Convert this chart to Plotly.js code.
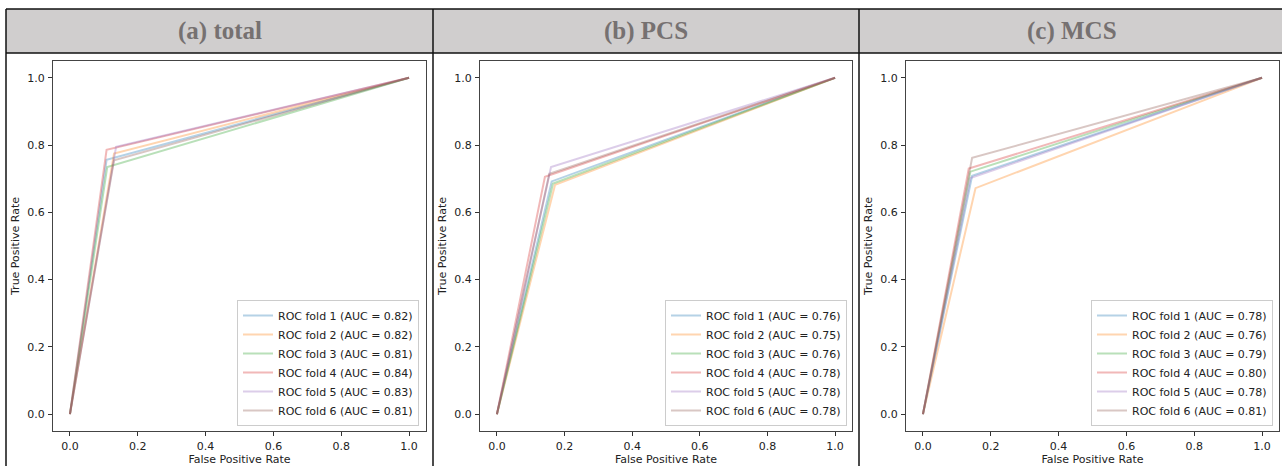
<!DOCTYPE html>
<html>
<head>
<meta charset="utf-8">
<script src="https://cdn.plot.ly/plotly-3.0.1.min.js"></script>
<style>html,body{margin:0;padding:0;background:#fff;}#chart{width:1282px;height:466px;}</style>
</head>
<body>
<div id="chart"></div>
<script>
// ---- data ----
const panelTitles = ['(a) total', '(b) PCS', '(c) MCS'];
const foldLabels = ['ROC fold 1', 'ROC fold 2', 'ROC fold 3', 'ROC fold 4', 'ROC fold 5', 'ROC fold 6'];
const foldColors = ['31,119,180', '255,127,14', '44,160,44', '214,39,40', '148,103,189', '140,86,75'];

const aucTotal = [0.82, 0.82, 0.81, 0.84, 0.83, 0.81];
const fprTotal = [0.108, 0.130, 0.110, 0.108, 0.136, 0.130];
const tprTotal = [0.756, 0.775, 0.735, 0.786, 0.795, 0.755];

const aucPCS = [0.76, 0.75, 0.76, 0.78, 0.78, 0.78];
const fprPCS = [0.162, 0.172, 0.166, 0.142, 0.160, 0.155];
const tprPCS = [0.692, 0.682, 0.686, 0.706, 0.735, 0.715];

const aucMCS = [0.78, 0.76, 0.79, 0.80, 0.78, 0.81];
const fprMCS = [0.145, 0.155, 0.140, 0.135, 0.140, 0.145];
const tprMCS = [0.709, 0.672, 0.721, 0.730, 0.702, 0.762];

const tickVals = [0, 0.2, 0.4, 0.6, 0.8, 1.0];
const tickText = ['0.0', '0.2', '0.4', '0.6', '0.8', '1.0'];
const xTitle = 'False Positive Rate';
const yTitle = 'True Positive Rate';

// ---- layout geometry (pixels) ----
const W = 1282, H = 466;
const px = v => v / W;
const py = v => 1 - v / H;
const plotBoxes = [[53, 426], [480, 852], [906, 1279]];
const plotTop = 61, plotBottom = 431;
const legendRight = [419, 847, 1273];
const legendBottom = 426;
const cellEdges = [6, 433, 859, 1285];

const panels = [
  {auc: aucTotal, fpr: fprTotal, tpr: tprTotal},
  {auc: aucPCS, fpr: fprPCS, tpr: tprPCS},
  {auc: aucMCS, fpr: fprMCS, tpr: tprMCS}
];

const traces = [];
const layout = {
  width: W, height: H, autosize: false,
  margin: {l: 0, r: 0, t: 0, b: 0, pad: 0},
  paper_bgcolor: '#ffffff', plot_bgcolor: '#ffffff',
  font: {family: 'DejaVu Sans', size: 11, color: '#222'},
  shapes: [], annotations: []
};

panels.forEach((p, k) => {
  const sx = k === 0 ? '' : String(k + 1);
  const legName = k === 0 ? 'legend' : 'legend' + (k + 1);
  p.auc.forEach((a, i) => {
    traces.push({
      type: 'scatter', mode: 'lines',
      x: [0, p.fpr[i], 1], y: [0, p.tpr[i], 1],
      xaxis: 'x' + sx, yaxis: 'y' + sx,
      name: foldLabels[i] + ' (AUC = ' + a.toFixed(2) + ')',
      line: {color: 'rgba(' + foldColors[i] + ',0.33)', width: 2},
      legend: legName, hoverinfo: 'skip'
    });
  });
  const axCommon = {
    range: [-0.05, 1.05], tickvals: tickVals, ticktext: tickText,
    ticks: 'outside', ticklen: 4, tickwidth: 1, tickcolor: '#333',
    showline: true, linecolor: '#444', linewidth: 1, mirror: true,
    showgrid: false, zeroline: false, fixedrange: true,
    tickfont: {family: 'DejaVu Sans', size: 11, color: '#222'}
  };
  layout['xaxis' + sx] = Object.assign({}, axCommon, {
    domain: [px(plotBoxes[k][0]), px(plotBoxes[k][1])],
    anchor: 'y' + sx, ticklabelstandoff: 1,
    title: {text: xTitle, standoff: 6, font: {family: 'DejaVu Sans', size: 11, color: '#222'}}
  });
  layout['yaxis' + sx] = Object.assign({}, axCommon, {
    domain: [py(plotBottom), py(plotTop)],
    anchor: 'x' + sx, ticklabelstandoff: 1,
    title: {text: yTitle, standoff: 5, font: {family: 'DejaVu Sans', size: 11, color: '#222'}}
  });
  layout[legName] = {
    x: px(legendRight[k]), xanchor: 'right',
    y: py(legendBottom), yanchor: 'bottom',
    bgcolor: 'rgba(255,255,255,0.85)', bordercolor: '#cccccc', borderwidth: 1,
    font: {family: 'DejaVu Sans', size: 11, color: '#222'},
    itemwidth: 30, tracegroupgap: 0
  };
  // header text
  layout.annotations.push({
    xref: 'paper', yref: 'paper',
    x: px((cellEdges[k] + cellEdges[k + 1]) / 2), y: py(31),
    xanchor: 'center', yanchor: 'middle', showarrow: false,
    text: '<b>' + panelTitles[k] + '</b>',
    font: {family: 'Liberation Serif', size: 25, color: '#767171'}
  });
});

// header band and table lines
layout.shapes.push({type: 'rect', xref: 'paper', yref: 'paper', x0: px(6), x1: px(1285), y0: py(53), y1: py(9), fillcolor: '#d0cece', line: {width: 0}, layer: 'below'});
[9, 53].forEach(yy => layout.shapes.push({type: 'line', xref: 'paper', yref: 'paper', x0: px(6), x1: px(1285), y0: py(yy), y1: py(yy), line: {color: '#111', width: 1.5}}));
[6, 433, 859].forEach(xx => layout.shapes.push({type: 'line', xref: 'paper', yref: 'paper', x0: px(xx), x1: px(xx), y0: py(9), y1: py(470), line: {color: '#111', width: 1.5}}));

Plotly.newPlot('chart', traces, layout, {displayModeBar: false, staticPlot: true});
</script>
</body>
</html>
